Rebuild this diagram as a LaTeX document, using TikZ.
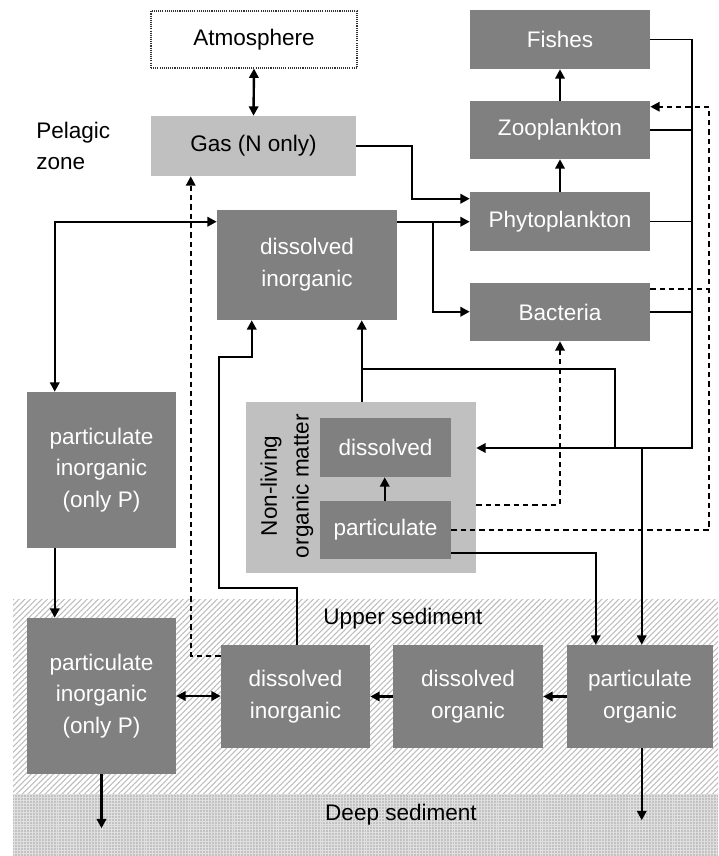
\documentclass[tikz,border=0pt]{standalone}
\usepackage{fontspec}
\setmainfont{Liberation Sans}
\usetikzlibrary{arrows.meta,calc,patterns.meta}
\definecolor{boxgray}{HTML}{808080}
\definecolor{lightbox}{HTML}{C0C0C0}
\definecolor{hatchgray}{HTML}{BDBDBD}
\definecolor{deepgray}{HTML}{C2C2C2}
\begin{document}
\begin{tikzpicture}[x=0.75pt,y=-0.75pt,
  font=\fontsize{16.9}{23.8}\selectfont,
  sz/.style 2 args={minimum width=#1*0.75pt,minimum height=#2*0.75pt},
  box/.style={inner sep=0pt,align=center,draw=none},
  dark/.style={box,fill=boxgray,text=white},
  light/.style={box,fill=lightbox,text=black},
  line/.style={line width=1.8pt},
  stub/.style={line width=1.3pt},
  tip/.tip={Triangle[length=7pt,width=7pt]},
  flow/.style={line, -tip},
  biflow/.style={line, tip-tip},
  dline/.style={line width=1.6pt,dash pattern=on 4pt off 3pt},
  dflow/.style={dline, -tip},
  lbl/.style={inner sep=0pt,text=black}
]
\useasboundingbox (0,0) rectangle (718,856);

% sediment layers
\path[pattern={Lines[angle=45,distance=3pt,line width=0.8pt]},pattern color=hatchgray]
  (13,599) rectangle (718,794);
\fill[deepgray] (13,794) rectangle (718,856);
\path[pattern={Hatch[angle=0,distance=2.2pt,line width=0.3pt]},pattern color=white!50!deepgray]
  (13,794) rectangle (718,856);
\node[lbl] (upperlbl) at (403,619) {Upper sediment};
\node[lbl] (deeplbl) at (401,815) {Deep sediment};

% pelagic compartments
\node[box,sz={206}{57},draw=black!80,line width=0.8pt,dash pattern=on 0.8pt off 0.8pt] (atm) at (254,39.5) {Atmosphere};
\node[light,sz={205}{60}] (gas) at (253.5,146) {Gas (N only)};
\node[lbl,align=left,anchor=west] (pelagic) at (36,146) {Pelagic\\zone};

\node[dark,sz={180}{59}] (fish) at (560,39.5) {Fishes};
\node[dark,sz={180}{58}] (zoo) at (560,130) {Zooplankton};
\node[dark,sz={180}{59}] (phyto) at (560,221.5) {Phytoplankton};
\node[dark,sz={180}{58}] (bact) at (560,312) {Bacteria};

\node[dark,sz={180}{110}] (dinorg) at (307,265) {dissolved\\inorganic};
\node[dark,sz={149}{156}] (pinorg) at (101.5,470) {particulate\\inorganic\\(only P)};

\node[light,sz={230}{171}] (ncont) at (361,487.5) {};
\node[lbl,rotate=90,align=center] (nlabel) at (287,486) {Non-living\\organic matter};
\node[dark,sz={131}{59}] (ndis) at (385.5,447.5) {dissolved};
\node[dark,sz={131}{58}] (npart) at (385.5,530) {particulate};

% sediment compartments
\node[dark,sz={149}{156}] (spinorg) at (101.5,696) {particulate\\inorganic\\(only P)};
\node[dark,sz={149}{103}] (sdinorg) at (295.5,696.5) {dissolved\\inorganic};
\node[dark,sz={150}{103}] (sdorg) at (468,696.5) {dissolved\\organic};
\node[dark,sz={146}{103}] (sporg) at (640,696.5) {particulate\\organic};

% helper points of the collecting line on the right
\coordinate (colBot) at (692,448);
\coordinate (sporgIn) at ($(sporg.north west)+(75,0)$);

% atmosphere exchange
\draw[biflow] (atm.south) -- (gas.north);
% food chain
\draw[flow] (phyto.north) -- (zoo.south);
\draw[flow] (zoo.north) -- (fish.south);
% uptake
\draw[flow] (gas.east) -- ++(56,0) |- ($(phyto.north west)+(0,7)$);
\draw[flow] ($(dinorg.north east)+(0,12)$) -- ($(phyto.north west)+(0,30)$);
\draw[flow] ($(dinorg.north east)+(36,12)$) |- ($(bact.north west)+(0,29)$);
% adsorption / settling of inorganic P
\draw[biflow] ($(dinorg.north west)+(0,12)$) -| ($(pinorg.north west)+(28,0)$);
\draw[flow] ($(pinorg.south west)+(28,0)$) -- ($(spinorg.north west)+(28,0)$);
\draw[flow] (spinorg.south) -- ++(0,54);

% mortality and excretion into non-living organic matter
\draw[stub] (fish.east) -- (fish.east -| colBot);
\draw[stub] (zoo.east) -- (zoo.east -| colBot);
\draw[stub] (phyto.east) -- (phyto.east -| colBot);
\draw[stub] (bact.east) -- (bact.east -| colBot);
\draw[flow] (fish.east -| colBot) -- (colBot) -- (colBot -| ncont.east);
\draw[flow] (colBot -| sporgIn) -- (sporgIn);
\draw[line] ($(colBot)+(-77,0)$) |- ($(dinorg.south west)+(145,49)$);
\draw[flow] ($(ncont.north west)+(116,0)$) -- ($(dinorg.south west)+(145,0)$);

% grazing on detritus and bacteria
\draw[dflow] (npart.east) -- ++(258,0) |- ($(zoo.north east)+(0,6)$);
\draw[dline] ($(bact.north east)+(0,6)$) -- ++(59,0);
\draw[dflow] ($(ncont.north east)+(0,103)$) -| (bact.south);

% hydrolysis and sedimentation
\draw[flow] ($(npart.north west)+(65,0)$) -- ($(ndis.south west)+(65,0)$);
\draw[flow] ($(npart.south east)+(0,-6)$) -| ($(sporg.north west)+(29,0)$);

% sediment processes
\draw[flow] (sporg.west) -- (sdorg.east);
\draw[flow] (sdorg.west) -- (sdinorg.east);
\draw[biflow] (spinorg.east) -- (spinorg.east -| sdinorg.west);
\draw[flow] ($(sporg.south west)+(75,0)$) -- ++(0,72);
\draw[flow] ($(sdinorg.north west)+(76,0)$) -- ++(0,-57) -- ++(-78,0) -- ++(0,-231)
  -| ($(dinorg.south west)+(35,0)$);
\draw[dflow] ($(sdinorg.north west)+(0,11)$) -| ($(gas.south west)+(40,0)$);
\end{tikzpicture}
\end{document}
